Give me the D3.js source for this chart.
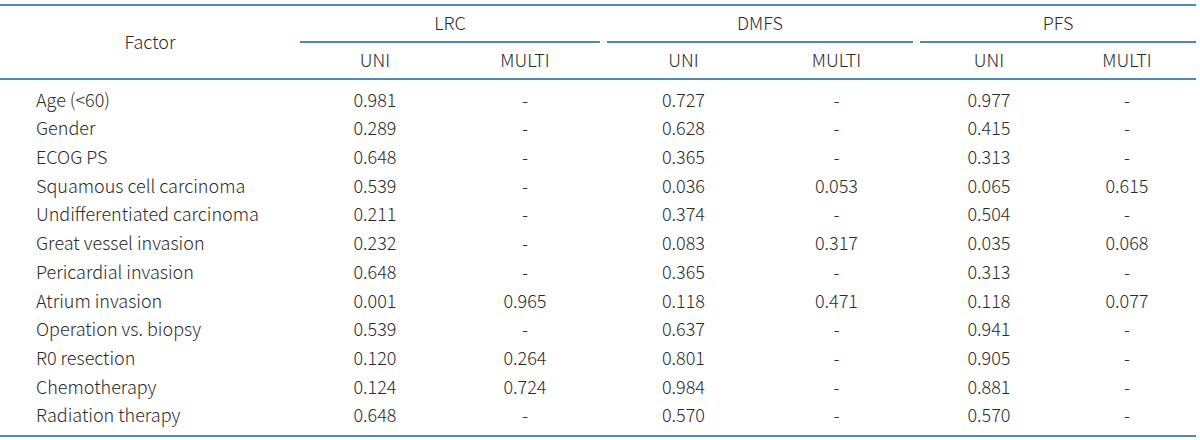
<!DOCTYPE html>
<html>
<head>
<meta charset="utf-8">
<script src="https://cdn.jsdelivr.net/npm/d3@7"></script>
<style>
  body { margin: 0; background: #fff; }
  text { font-family: "Noto Sans CJK KR", "Noto Sans", sans-serif; font-weight: 300; fill: #2b2b2b; }
</style>
</head>
<body>
<div id="container_table"></div>
<script>
const WIDTH = 1200;
const HEIGHT = 440;
const LINE_COLOR = '#4f89ad';
const FONT_SIZE = 18;

// data
const groups = ['LRC', 'DMFS', 'PFS'];
const subCols = ['UNI', 'MULTI'];
const factors = ['Age (<60)', 'Gender', 'ECOG PS', 'Squamous cell carcinoma',
  'Undifferentiated carcinoma', 'Great vessel invasion', 'Pericardial invasion',
  'Atrium invasion', 'Operation vs. biopsy', 'R0 resection', 'Chemotherapy',
  'Radiation therapy'];
const lrcUni    = ['0.981', '0.289', '0.648', '0.539', '0.211', '0.232', '0.648', '0.001', '0.539', '0.120', '0.124', '0.648'];
const lrcMulti  = ['-', '-', '-', '-', '-', '-', '-', '0.965', '-', '0.264', '0.724', '-'];
const dmfsUni   = ['0.727', '0.628', '0.365', '0.036', '0.374', '0.083', '0.365', '0.118', '0.637', '0.801', '0.984', '0.570'];
const dmfsMulti = ['-', '-', '-', '0.053', '-', '0.317', '-', '0.471', '-', '-', '-', '-'];
const pfsUni    = ['0.977', '0.415', '0.313', '0.065', '0.504', '0.035', '0.313', '0.118', '0.941', '0.905', '0.881', '0.570'];
const pfsMulti  = ['-', '-', '-', '0.615', '-', '0.068', '-', '0.077', '-', '-', '-', '-'];

const values = {
  LRC: { UNI: lrcUni, MULTI: lrcMulti },
  DMFS: { UNI: dmfsUni, MULTI: dmfsMulti },
  PFS: { UNI: pfsUni, MULTI: pfsMulti }
};

const svg = d3.select('#container_table')
  .append('svg')
  .attr('width', WIDTH)
  .attr('height', HEIGHT);

// layout scales
const groupSpan = d3.scaleOrdinal()
  .domain(groups)
  .range([[300, 600], [607, 913], [920, 1196]]);

const subX = (g, s) => {
  const sc = d3.scaleBand().domain(subCols).range(groupSpan(g));
  return sc(s) + sc.bandwidth() / 2;
};

const yscale = d3.scaleBand()
  .domain(factors)
  .range([86, 430.5]);

const hline = (x1, x2, y) => svg.append('line')
  .attr('x1', x1).attr('x2', x2)
  .attr('y1', y).attr('y2', y)
  .attr('stroke', LINE_COLOR)
  .attr('stroke-width', 2);

hline(0, 1196, 5);
hline(0, 1196, 79);
hline(0, 1196, 436);

groups.forEach(g => {
  const [a, b] = groupSpan(g);
  hline(a, b, 42);
});

// header
svg.append('text')
  .attr('x', 150).attr('y', 43)
  .attr('dy', '0.35em')
  .attr('text-anchor', 'middle')
  .style('font-size', FONT_SIZE + 'px')
  .text('Factor');

svg.selectAll('.group_label')
  .data(groups)
  .enter()
  .append('text')
  .attr('class', 'group_label')
  .attr('x', d => d3.mean(groupSpan(d)))
  .attr('y', 24)
  .attr('dy', '0.35em')
  .attr('text-anchor', 'middle')
  .style('font-size', FONT_SIZE + 'px')
  .text(d => d);

const subHeads = [];
groups.forEach(g => subCols.forEach(s => subHeads.push({ g: g, s: s })));

svg.selectAll('.sub_label')
  .data(subHeads)
  .enter()
  .append('text')
  .attr('class', 'sub_label')
  .attr('x', d => subX(d.g, d.s))
  .attr('y', 61)
  .attr('dy', '0.35em')
  .attr('text-anchor', 'middle')
  .style('font-size', FONT_SIZE + 'px')
  .text(d => d.s);

// body
svg.selectAll('.factor')
  .data(factors)
  .enter()
  .append('text')
  .attr('class', 'factor')
  .attr('x', 36)
  .attr('y', d => yscale(d) + yscale.bandwidth() / 2)
  .attr('dy', '0.35em')
  .style('font-size', FONT_SIZE + 'px')
  .text(d => d);

const cells = [];
factors.forEach((f, i) => {
  subHeads.forEach(h => cells.push({ f: f, g: h.g, s: h.s, v: values[h.g][h.s][i] }));
});

svg.selectAll('.cell')
  .data(cells)
  .enter()
  .append('text')
  .attr('class', 'cell')
  .attr('x', d => subX(d.g, d.s))
  .attr('y', d => yscale(d.f) + yscale.bandwidth() / 2)
  .attr('dy', '0.35em')
  .attr('text-anchor', 'middle')
  .style('font-size', FONT_SIZE + 'px')
  .text(d => d.v);
</script>
</body>
</html>
